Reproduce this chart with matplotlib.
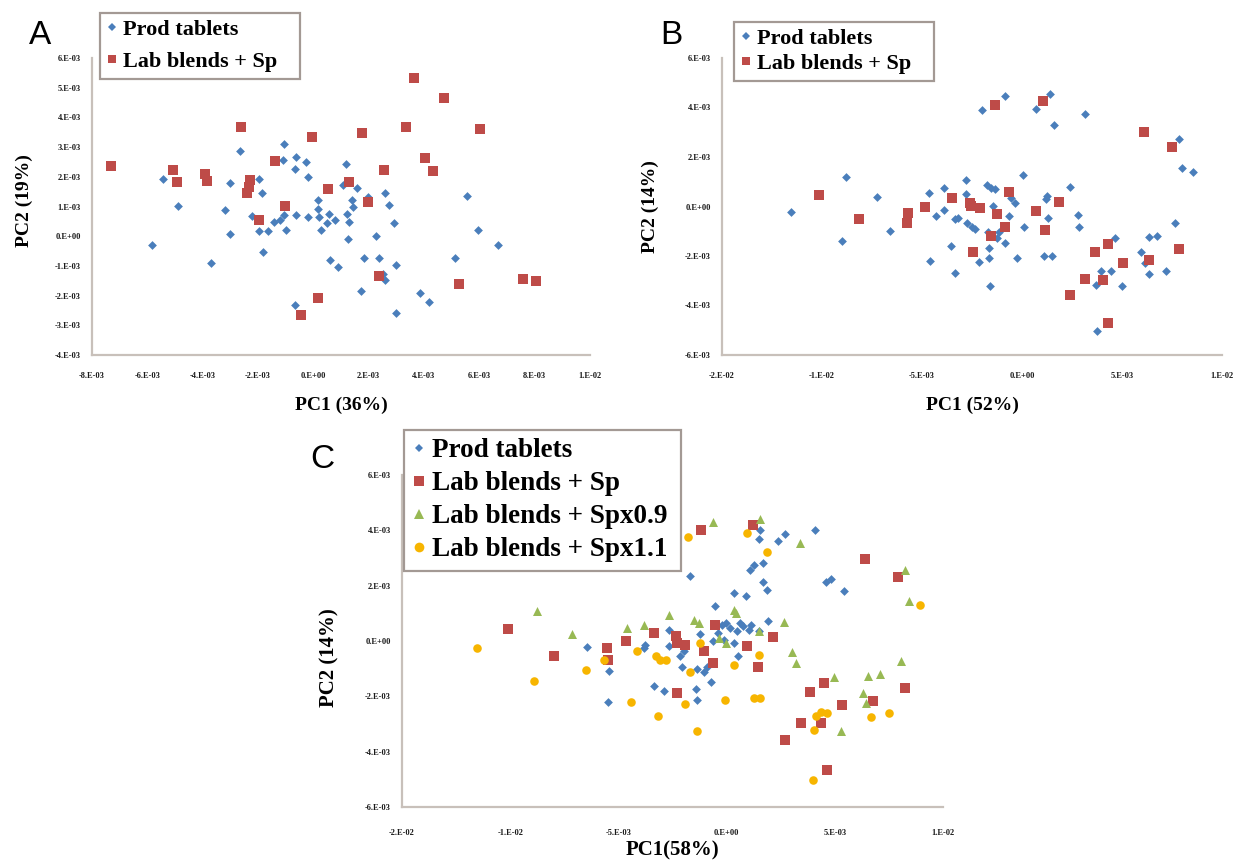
import matplotlib
matplotlib.use("Agg")
import matplotlib.pyplot as plt
from matplotlib.lines import Line2D
import numpy as np

# ---------------- data (values in units of 1E-3) ----------------
a_prod_x = [-5.83, -5.45, -4.88, -3.70, -3.20, -3.03, -3.03, -2.66, -2.23, -1.95, -1.95, -1.85, -1.82,
            -1.64, -1.42, -1.21, -1.11, -1.07, -1.07, -1.00, -0.67, -0.64, -0.67, -0.64, -0.26, -0.21,
            -0.21, 0.17, 0.17, 0.21, 0.28, 0.50, 0.57, 0.61, 0.78, 0.90, 1.07, 1.18, 1.21, 1.25, 1.28,
            1.38, 1.45, 1.59, 1.71, 1.82, 1.99, 2.28, 2.39, 2.52, 2.59, 2.59, 2.75, 2.92, 2.99, 2.99,
            3.87, 4.17, 5.12, 5.55, 5.95, 6.69]
a_prod_y = [-0.28, 1.91, 1.01, -0.89, 0.88, 1.78, 0.06, 2.87, 0.67, 1.92, 0.18, 1.47, -0.54,
            0.18, 0.48, 0.54, 2.56, 3.10, 0.71, 0.20, 2.26, 2.68, -2.31, 0.71, 2.51, 2.00,
            0.65, 1.21, 0.93, 0.65, 0.20, 0.43, 0.76, -0.81, 0.54, -1.03, 1.72, 2.43, 0.76, -0.10, 0.48,
            1.21, 0.99, 1.61, -1.86, -0.75, 1.33, 0.01, -0.75, -1.26, 1.47, -1.46, 1.05, 0.43, -0.96, -2.58,
            -1.90, -2.22, -0.75, 1.36, 0.20, -0.30]
a_lab_x = [-7.30, -5.08, -4.91, -3.91, -3.84, -2.60, -2.28, -2.32, -2.38, -1.95, -1.38, -1.04, -0.46,
           -0.04, 0.18, 0.53, 1.28, 1.75, 1.99, 2.39, 2.56, 3.34, 3.63, 4.05, 4.31, 4.74, 5.28, 6.02,
           7.57, 8.04]
a_lab_y = [2.37, 2.23, 1.81, 2.08, 1.86, 3.66, 1.89, 1.66, 1.44, 0.56, 2.53, 1.02, -2.67,
           3.35, -2.08, 1.59, 1.83, 3.46, 1.16, -1.35, 2.23, 3.66, 5.32, 2.62, 2.20, 4.65, -1.62, 3.61,
           -1.43, -1.52]

b_prod_x = [-11.56, -8.98, -8.82, -7.25, -6.61, -4.65, -4.61, -4.31, -3.91, -3.91, -3.55, -3.35, -3.35,
            -3.22, -2.82, -2.82, -2.76, -2.52, -2.36, -2.16, -2.02, -1.76, -1.72, -1.63, -1.63, -1.59,
            -1.53, -1.43, -1.33, -1.23, -1.13, -0.83, -0.83, -0.63, -0.53, -0.33, -0.27, 0.06, 0.10,
            0.70, 1.12, 1.22, 1.26, 1.32, 1.40, 1.51, 1.61, 2.41, 2.79, 2.85, 3.14, 3.70, 3.74, 3.94,
            4.44, 4.63, 4.99, 5.97, 6.16, 6.36, 6.36, 6.76, 7.22, 7.67, 7.87, 8.01, 8.55]
b_prod_y = [-0.21, -1.41, 1.19, 0.37, -0.98, 0.54, -2.20, -0.38, 0.73, -0.15, -1.59, -2.67, -0.52,
            -0.45, 1.06, 0.49, -0.65, -0.81, -0.92, -2.26, 3.90, 0.87, -1.05, -1.66, -2.10, -3.23,
            0.76, 0.02, 0.69, -1.29, -1.03, 4.45, -1.46, -0.38, 0.36, 0.15, -2.10, 1.26, -0.81,
            3.94, -2.00, 0.32, 0.42, -0.45, 4.56, -2.00, 3.29, 0.79, -0.36, -0.81, 3.72, -3.18, -5.02, -2.60,
            -2.60, -1.26, -3.23, -1.84, -2.27, -1.23, -2.73, -1.19, -2.60, -0.65, 2.71, 1.54, 1.39]
b_lab_x = [-10.17, -8.14, -5.70, -5.76, -4.84, -3.51, -2.62, -2.56, -2.12, -2.46, -1.53, -1.37, -1.27,
           -0.83, -0.67, 0.70, 1.06, 1.16, 1.85, 2.41, 3.14, 3.64, 4.04, 4.30, 4.30, 5.03, 6.09, 6.36,
           7.52, 7.87]
b_lab_y = [0.45, -0.52, -0.25, -0.65, -0.01, 0.33, 0.15, 0.02, -0.05, -1.82, -1.19, 4.12, -0.32,
           -0.81, 0.60, -0.19, 4.28, -0.95, 0.18, -3.58, -2.93, -1.82, -2.96, -1.50, -4.71, -2.30, 3.02, -2.16,
           2.40, -1.70]

c_prod_x = [-6.45, -5.44, -5.48, -3.80, -3.75, -3.36, -2.88, -2.64, -2.64, -2.16, -2.07, -1.97, -1.68,
            -1.43, -1.39, -1.35, -1.24, -1.04, -0.91, -0.71, -0.62, -0.52, -0.42, -0.23, -0.14, -0.04,
            0.15, 0.35, 0.35, 0.54, 0.50, 0.64, 0.77, 0.89, 1.02, 1.08, 1.27, 1.51, 1.56, 1.66, 1.66,
            1.85, 1.93, 2.37, 2.72, 4.07, 4.59, 4.83, 5.41, 1.51, 1.12]
c_prod_y = [-0.23, -1.07, -2.20, -0.25, -0.16, -1.63, -1.81, 0.38, -0.19, -0.55, -0.93, -0.37, 2.36,
            -1.72, -2.13, -1.03, 0.26, -1.13, -0.93, -1.49, -0.01, 1.25, 0.29, 0.59, 0.05, 0.65,
            0.47, 1.72, -0.07, -0.55, 0.35, 0.65, 0.55, 1.63, 0.41, 2.56, 2.74, 3.70, 4.00, 2.83, 2.14,
            1.84, 0.71, 3.60, 3.86, 4.00, 2.14, 2.23, 1.82, 0.35, 0.59]
c_sp_x = [-10.08, -7.99, -5.54, -5.50, -4.63, -3.36, -2.36, -2.30, -2.30, -1.93, -1.20, -1.04, -0.62,
          -0.52, 0.93, 1.22, 1.47, 2.14, 2.72, 3.44, 3.86, 4.50, 4.36, 4.63, 5.33, 6.39, 6.76, 7.92, 8.26]
c_sp_y = [0.43, -0.53, -0.25, -0.67, -0.01, 0.29, 0.17, -0.07, -1.87, -0.13, 4.02, -0.37, -0.81,
          0.59, -0.19, 4.18, -0.93, 0.13, -3.58, -2.97, -1.83, -1.51, -2.95, -4.68, -2.32, 2.95, -2.17, 2.32, -1.71]
c_sp09_x = [-8.76, -7.14, -4.58, -3.80, -2.64, -1.49, -1.29, -0.62, 0.35, 0.44, -0.33, -0.04, 1.51,
            1.56, 2.66, 3.01, 3.20, 3.40, 4.98, 5.27, 6.29, 6.53, 7.07, 8.07, 8.26, 8.42, 6.43]
c_sp09_y = [1.09, 0.26, 0.47, 0.59, 0.95, 0.77, 0.65, 4.30, 1.13, 1.01, 0.11, -0.07, 0.35,
            4.42, 0.68, -0.41, -0.81, 3.54, -1.29, -3.25, -1.87, -1.27, -1.19, -0.73, 2.56, 1.43, -2.25]
c_sp11_x = [-11.53, -8.88, -6.51, -5.68, -4.44, -4.13, -3.26, -3.17, -3.09, -2.78, -1.93, -1.78, -1.68,
            -1.39, -1.24, -0.08, 0.35, 0.93, 1.27, 1.51, 1.56, 1.85, 4.02, 4.15, 4.36, 4.63, 3.98, 6.68,
            7.49, 8.94]
c_sp11_y = [-0.25, -1.43, -1.05, -0.67, -2.20, -0.37, -0.53, -2.71, -0.67, -0.67, -2.29, 3.76, -1.13,
            -3.25, -0.07, -2.13, -0.87, 3.92, -2.05, -0.49, -2.05, 3.20, -3.21, -2.71, -2.56, -2.59, -5.01, -2.73,
            -2.61, 1.31]

a_xticks = [-8, -6, -4, -2, 0, 2, 4, 6, 8, 10]
a_xticklabels = ["-8.E-03", "-6.E-03", "-4.E-03", "-2.E-03", "0.E+00", "2.E-03", "4.E-03", "6.E-03",
                 "8.E-03", "1.E-02"]
a_yticks = [6, 5, 4, 3, 2, 1, 0, -1, -2, -3, -4]
a_yticklabels = ["6.E-03", "5.E-03", "4.E-03", "3.E-03", "2.E-03", "1.E-03", "0.E+00", "-1.E-03",
                 "-2.E-03", "-3.E-03", "-4.E-03"]
bc_xticks = [-15, -10, -5, 0, 5, 10]
bc_xticklabels = ["-2.E-02", "-1.E-02", "-5.E-03", "0.E+00", "5.E-03", "1.E-02"]
bc_yticks = [6, 4, 2, 0, -2, -4, -6]
bc_yticklabels = ["6.E-03", "4.E-03", "2.E-03", "0.E+00", "-2.E-03", "-4.E-03", "-6.E-03"]

# ---------------- style ----------------
BLUE = "#4A7EBB"
RED = "#BE4B48"
GREEN = "#98B954"
GOLD = "#F7B500"
SPINE = "#C8C0BA"
SERIF = ["Liberation Serif", "DejaVu Serif"]

W, H = 1245, 863
fig = plt.figure(figsize=(W / 100, H / 100), dpi=100)


def px_axes(left, top, right, bottom):
    return fig.add_axes([left / W, 1 - bottom / H, (right - left) / W, (bottom - top) / H])


def style_axes(ax, xt, xtl, yt, ytl, xlim, ylim, xpad, ypad):
    ax.set_xlim(*xlim)
    ax.set_ylim(*ylim)
    ax.set_xticks(xt)
    ax.set_xticklabels(xtl)
    ax.set_yticks(yt)
    ax.set_yticklabels(ytl)
    for s in ("top", "right"):
        ax.spines[s].set_visible(False)
    for s in ("left", "bottom"):
        ax.spines[s].set_color(SPINE)
        ax.spines[s].set_linewidth(1.6)
    ax.tick_params(axis="both", length=0, labelsize=6)
    ax.tick_params(axis="x", pad=xpad)
    ax.tick_params(axis="y", pad=ypad)
    for lab in ax.get_xticklabels() + ax.get_yticklabels():
        lab.set_fontfamily(SERIF)
        lab.set_fontweight("bold")
        lab.set_color("#1a1a1a")
    ax.set_facecolor("white")


def legend(ax, handles, labels, x, y, width, size, spacing):
    leg = ax.legend(handles, labels, loc="upper left",
                    bbox_to_anchor=(x / W, 1 - y / H - 0.01, width / W, 0.01),
                    bbox_transform=fig.transFigure, mode="expand", borderaxespad=0, frameon=True,
                    fancybox=False, handlelength=0.5, handletextpad=0.25, borderpad=0.3,
                    labelspacing=spacing,
                    prop={"family": SERIF, "weight": "bold", "size": size})
    fr = leg.get_frame()
    fr.set_edgecolor("#8C807A")
    fr.set_linewidth(1.6)
    return leg


def mk(marker, color, ms):
    return Line2D([], [], marker=marker, color=color, linestyle="none", markersize=ms,
                  markeredgewidth=0)


# ---------------- panel A ----------------
axA = px_axes(92, 58, 590, 355)
axA.scatter(a_prod_x, a_prod_y, marker="D", s=20, color=BLUE, linewidths=0, zorder=3)
axA.scatter(a_lab_x, a_lab_y, marker="s", s=42, color=RED, linewidths=0, zorder=4)
style_axes(axA, a_xticks, a_xticklabels, a_yticks, a_yticklabels, (-8, 10), (-4, 6), 12, 8)
axA.set_xlabel("PC1 (36%)", fontfamily=SERIF, fontweight="bold", fontsize=14)
axA.xaxis.set_label_coords(0.5, -0.14)
axA.set_ylabel("PC2 (19%)", fontfamily=SERIF, fontweight="bold", fontsize=14)
axA.yaxis.set_label_coords(-0.118, 0.52)
legend(axA, [mk("D", BLUE, 4), mk("s", RED, 6)], ["Prod tablets", "Lab blends + Sp"],
       100, 13, 200, 16, 0.5)
fig.text(40 / W, 1 - 35 / H, "A", ha="center", va="center", fontsize=24,
         fontfamily=["Liberation Sans", "DejaVu Sans"])

# ---------------- panel B ----------------
axB = px_axes(722, 58, 1222, 355)
axB.scatter(b_prod_x, b_prod_y, marker="D", s=20, color=BLUE, linewidths=0, zorder=3)
axB.scatter(b_lab_x, b_lab_y, marker="s", s=42, color=RED, linewidths=0, zorder=4)
style_axes(axB, bc_xticks, bc_xticklabels, bc_yticks, bc_yticklabels, (-15, 10), (-6, 6), 12, 8)
axB.set_xlabel("PC1 (52%)", fontfamily=SERIF, fontweight="bold", fontsize=14)
axB.xaxis.set_label_coords(0.5, -0.14)
axB.set_ylabel("PC2 (14%)", fontfamily=SERIF, fontweight="bold", fontsize=14)
axB.yaxis.set_label_coords(-0.126, 0.5)
legend(axB, [mk("D", BLUE, 4), mk("s", RED, 6)], ["Prod tablets", "Lab blends + Sp"],
       734, 22, 200, 16, 0.2)
fig.text(671 / W, 1 - 35 / H, "B", ha="center", va="center", fontsize=24,
         fontfamily=["Liberation Sans", "DejaVu Sans"])

# ---------------- panel C ----------------
axC = px_axes(402, 475, 943, 807)
axC.scatter(c_prod_x, c_prod_y, marker="D", s=20, color=BLUE, linewidths=0, zorder=3)
axC.scatter(c_sp_x, c_sp_y, marker="s", s=42, color=RED, linewidths=0, zorder=4)
axC.scatter(c_sp09_x, c_sp09_y, marker="^", s=42, color=GREEN, linewidths=0, zorder=5)
axC.scatter(c_sp11_x, c_sp11_y, marker="o", s=38, color=GOLD, linewidths=0, zorder=6)
style_axes(axC, bc_xticks, bc_xticklabels, bc_yticks, bc_yticklabels, (-15, 10), (-6, 6), 16, 8)
axC.set_xlabel("PC1(58%)", fontfamily=SERIF, fontweight="bold", fontsize=15)
axC.xaxis.set_label_coords(0.5, -0.10)
axC.set_ylabel("PC2 (14%)", fontfamily=SERIF, fontweight="bold", fontsize=15)
axC.yaxis.set_label_coords(-0.115, 0.449)
legend(axC, [mk("D", BLUE, 4), mk("s", RED, 7), mk("^", GREEN, 7), mk("o", GOLD, 7)],
       ["Prod tablets", "Lab blends + Sp", "Lab blends + Spx0.9", "Lab blends + Spx1.1"],
       404, 430, 277, 19.5, 0.3)
fig.text(322 / W, 1 - 459 / H, "C", ha="center", va="center", fontsize=24,
         fontfamily=["Liberation Sans", "DejaVu Sans"])

fig.savefig("out.png", dpi=100, facecolor="white")
